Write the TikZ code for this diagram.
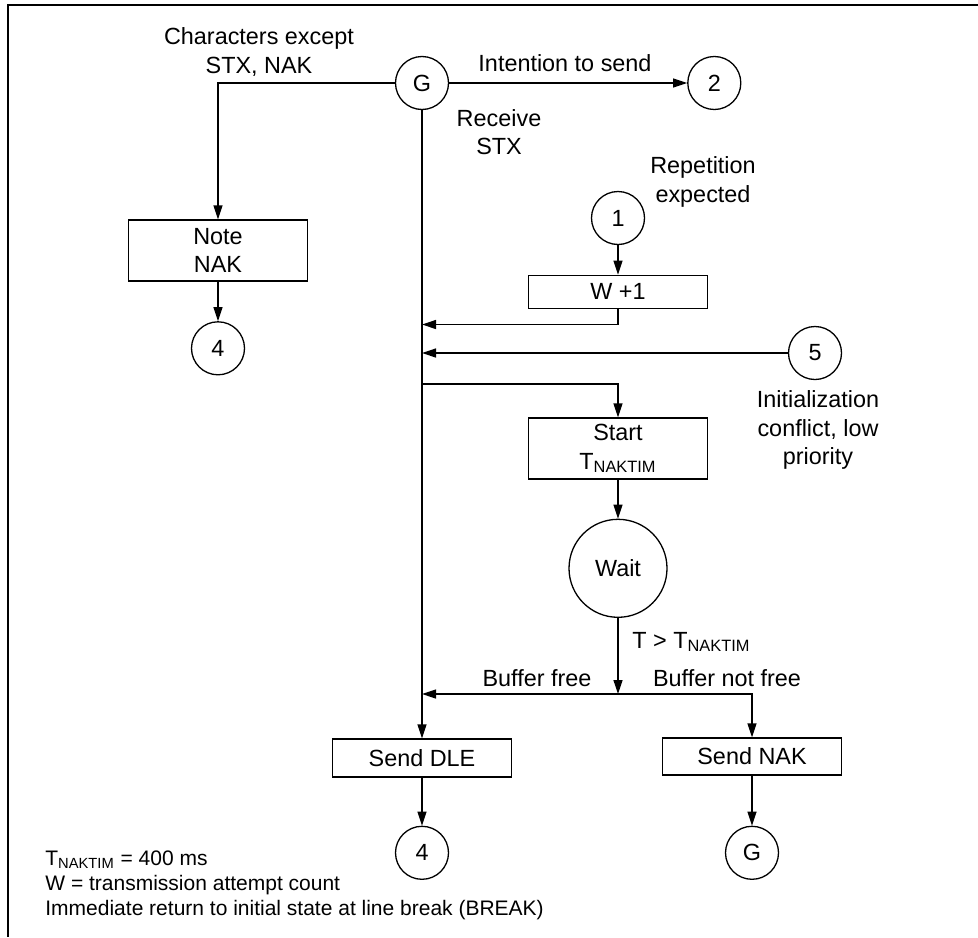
\documentclass[tikz,border=0pt]{standalone}
\usepackage{fontspec}
\setmainfont{Liberation Sans}
\usepackage{tikz}
\usetikzlibrary{arrows.meta, positioning, calc}
\newcommand{\diagfont}{\fontsize{11.7}{14.2}\selectfont}
\newcommand{\notefont}{\fontsize{10.5}{12.5}\selectfont}
\newcommand{\naktim}{T\textsubscript{NAKTIM}}
\tikzstyle{conncirc} = [circle, draw, minimum size=26.5pt, inner sep=0pt, line width=0.65pt, font=\diagfont]
\tikzstyle{waitcirc} = [circle, draw, minimum size=49pt, inner sep=0pt, line width=0.65pt, font=\diagfont]
\tikzstyle{actbox} = [rectangle, draw, minimum width=89.5pt, minimum height=16.5pt, inner sep=0pt,
  align=center, line width=0.65pt, font=\diagfont]
\tikzstyle{tallbox} = [actbox, minimum height=30.5pt]
\tikzstyle{labeltext} = [align=center, inner sep=0pt, font=\diagfont]
\tikzstyle{notetext} = [anchor=west, inner sep=0pt, font=\notefont]
\tikzstyle{arrow} = [line width=0.65pt, -{Triangle[length=7pt, width=4.5pt]}]
\begin{document}
\begin{tikzpicture}[x=0.5pt, y=-0.5pt, node distance=20pt]
  \useasboundingbox (0,0) rectangle (978,937);
  \draw[line width=1pt] (978,5) -- (8,5) -- (8,937);

  % states and actions
  \node (gtop)    [conncirc] at (422,83) {G};
  \node (two)     [conncirc, right=119pt of gtop] {2};
  \node (note)    [tallbox] at (218,250.5) {Note\\NAK};
  \node (fourl)   [conncirc, below=19.75pt of note] {4};
  \node (one)     [conncirc] at (618,218) {1};
  \node (wplus)   [actbox, below=14.75pt of one] {W +1};
  \node (five)    [conncirc] at (815,353) {5};
  \node (start)   [tallbox] at (618,448.5) {Start\\\naktim};
  \node (wait)    [waitcirc, below=19.5pt of start] {Wait};
  \node (senddle) [actbox, minimum height=19pt] at (422,758) {Send DLE};
  \node (sendnak) [actbox, minimum height=18.5pt] at (752,756.5) {Send NAK};
  \node (fourb)   [conncirc, below=24pt of senddle] {4};
  \node (gbot)    [conncirc, below=25pt of sendnak] {G};

  % junctions on the main line
  \coordinate (jwplus) at (gtop |- 0,324.5);
  \coordinate (jfive)  at (gtop |- five);
  \coordinate (split)  at (gtop |- 0,384);
  \coordinate (fork)   at (wait |- 0,694);
  \coordinate (jfree)  at (gtop |- fork);

  \draw[arrow] (gtop) -- (two);
  \draw[arrow] (gtop.west) -| (note.north);
  \draw[arrow] (note) -- (fourl);
  \draw[arrow] (gtop) -- (senddle);
  \draw[arrow] (one) -- (wplus);
  \draw[arrow] (wplus.south) |- (jwplus);
  \draw[arrow] (five) -- (jfive);
  \draw[arrow] (split) -| (start.north);
  \draw[arrow] (start) -- (wait);
  \draw[arrow] (wait) -- (fork);
  \draw[arrow] (fork) -- (jfree);
  \draw[arrow] (fork) -| (sendnak.north);
  \draw[arrow] (senddle) -- (fourb);
  \draw[arrow] (sendnak) -- (gbot);

  % labels
  \node (lblchar)  [labeltext] at (259,52) {Characters except\\STX, NAK};
  \node (lblsend)  [labeltext] at (565,63) {Intention to send};
  \node (lblstx)   [labeltext] at (499,132) {Receive\\STX};
  \node (lblrep)   [labeltext] at (703,182) {Repetition\\expected};
  \node (lblinit)  [labeltext] at (818,430) {Initialization\\conflict, low\\priority};
  \node (lbltime)  [labeltext, anchor=west] at (632,642) {T > \naktim};
  \node (lblfree)  [labeltext] at (537,678) {Buffer free};
  \node (lblnfree) [labeltext] at (727,678) {Buffer not free};

  % notes
  \node (notea) [notetext] at (45,860) {\naktim{} = 400 ms};
  \node (noteb) [notetext] at (45,885) {W = transmission attempt count};
  \node (notec) [notetext] at (45,910) {Immediate return to initial state at line break (BREAK)};
\end{tikzpicture}
\end{document}
